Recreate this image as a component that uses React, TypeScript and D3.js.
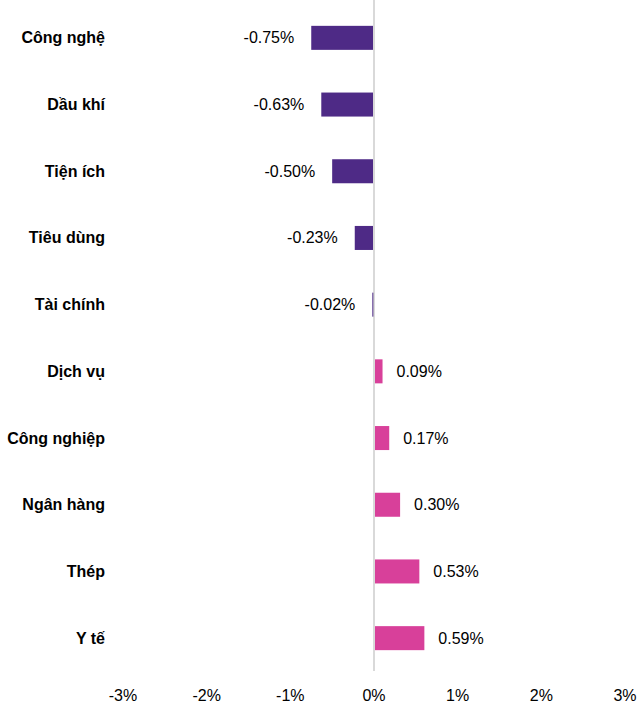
import React from "react";
import * as d3 from "d3";

const categories = ["Công nghệ", "Dầu khí", "Tiện ích", "Tiêu dùng", "Tài chính", "Dịch vụ", "Công nghiệp", "Ngân hàng", "Thép", "Y tế"];
const values = [-0.75, -0.63, -0.5, -0.23, -0.02, 0.09, 0.17, 0.3, 0.53, 0.59];
const ticks = [-3, -2, -1, 0, 1, 2, 3];

const W = 638;
const H = 707;
const NEG = "#4E2A86";
const POS = "#D8409A";
const FONT = "'Liberation Sans', Arial, sans-serif";

export default function App() {
  const x = d3.scaleLinear().domain([-3, 3]).range([123, 625]);
  const y = d3.scaleBand<string>().domain(categories).range([4.5, 671.5]).paddingInner(0.64).paddingOuter(0.32);
  const fmt = (v: number) => `${v.toFixed(2)}%`;
  return (
    <svg width={W} height={H} style={{ position: "absolute", left: 0, top: 0, background: "#fff" }}>
      <line x1={x(0)} x2={x(0)} y1={0} y2={671} stroke="#d9d9d9" strokeWidth={2} />
      {categories.map((c, i) => {
        const v = values[i];
        const yc = (y(c) as number) + y.bandwidth() / 2;
        const x0 = v < 0 ? x(v) : x(0) + 1;
        const w = v < 0 ? x(0) - 1 - x(v) : x(v) - x(0);
        return (
          <g key={c}>
            <text x={105} y={yc} textAnchor="end" dominantBaseline="central" fontFamily={FONT} fontWeight="bold" fontSize={16} fill="#000">{c}</text>
            <rect x={x0} y={y(c)} width={Math.max(w, 1)} height={y.bandwidth()} fill={v < 0 ? NEG : POS} />
            <text
              x={v < 0 ? x(v) - 17 : x(v) + 15}
              y={yc}
              textAnchor={v < 0 ? "end" : "start"}
              dominantBaseline="central"
              fontFamily={FONT}
              fontSize={16}
              fill="#000"
            >{fmt(v)}</text>
          </g>
        );
      })}
      {ticks.map((t) => (
        <text key={t} x={x(t)} y={695} textAnchor="middle" dominantBaseline="central" fontFamily={FONT} fontSize={16} fill="#000">{`${t}%`}</text>
      ))}
    </svg>
  );
}
